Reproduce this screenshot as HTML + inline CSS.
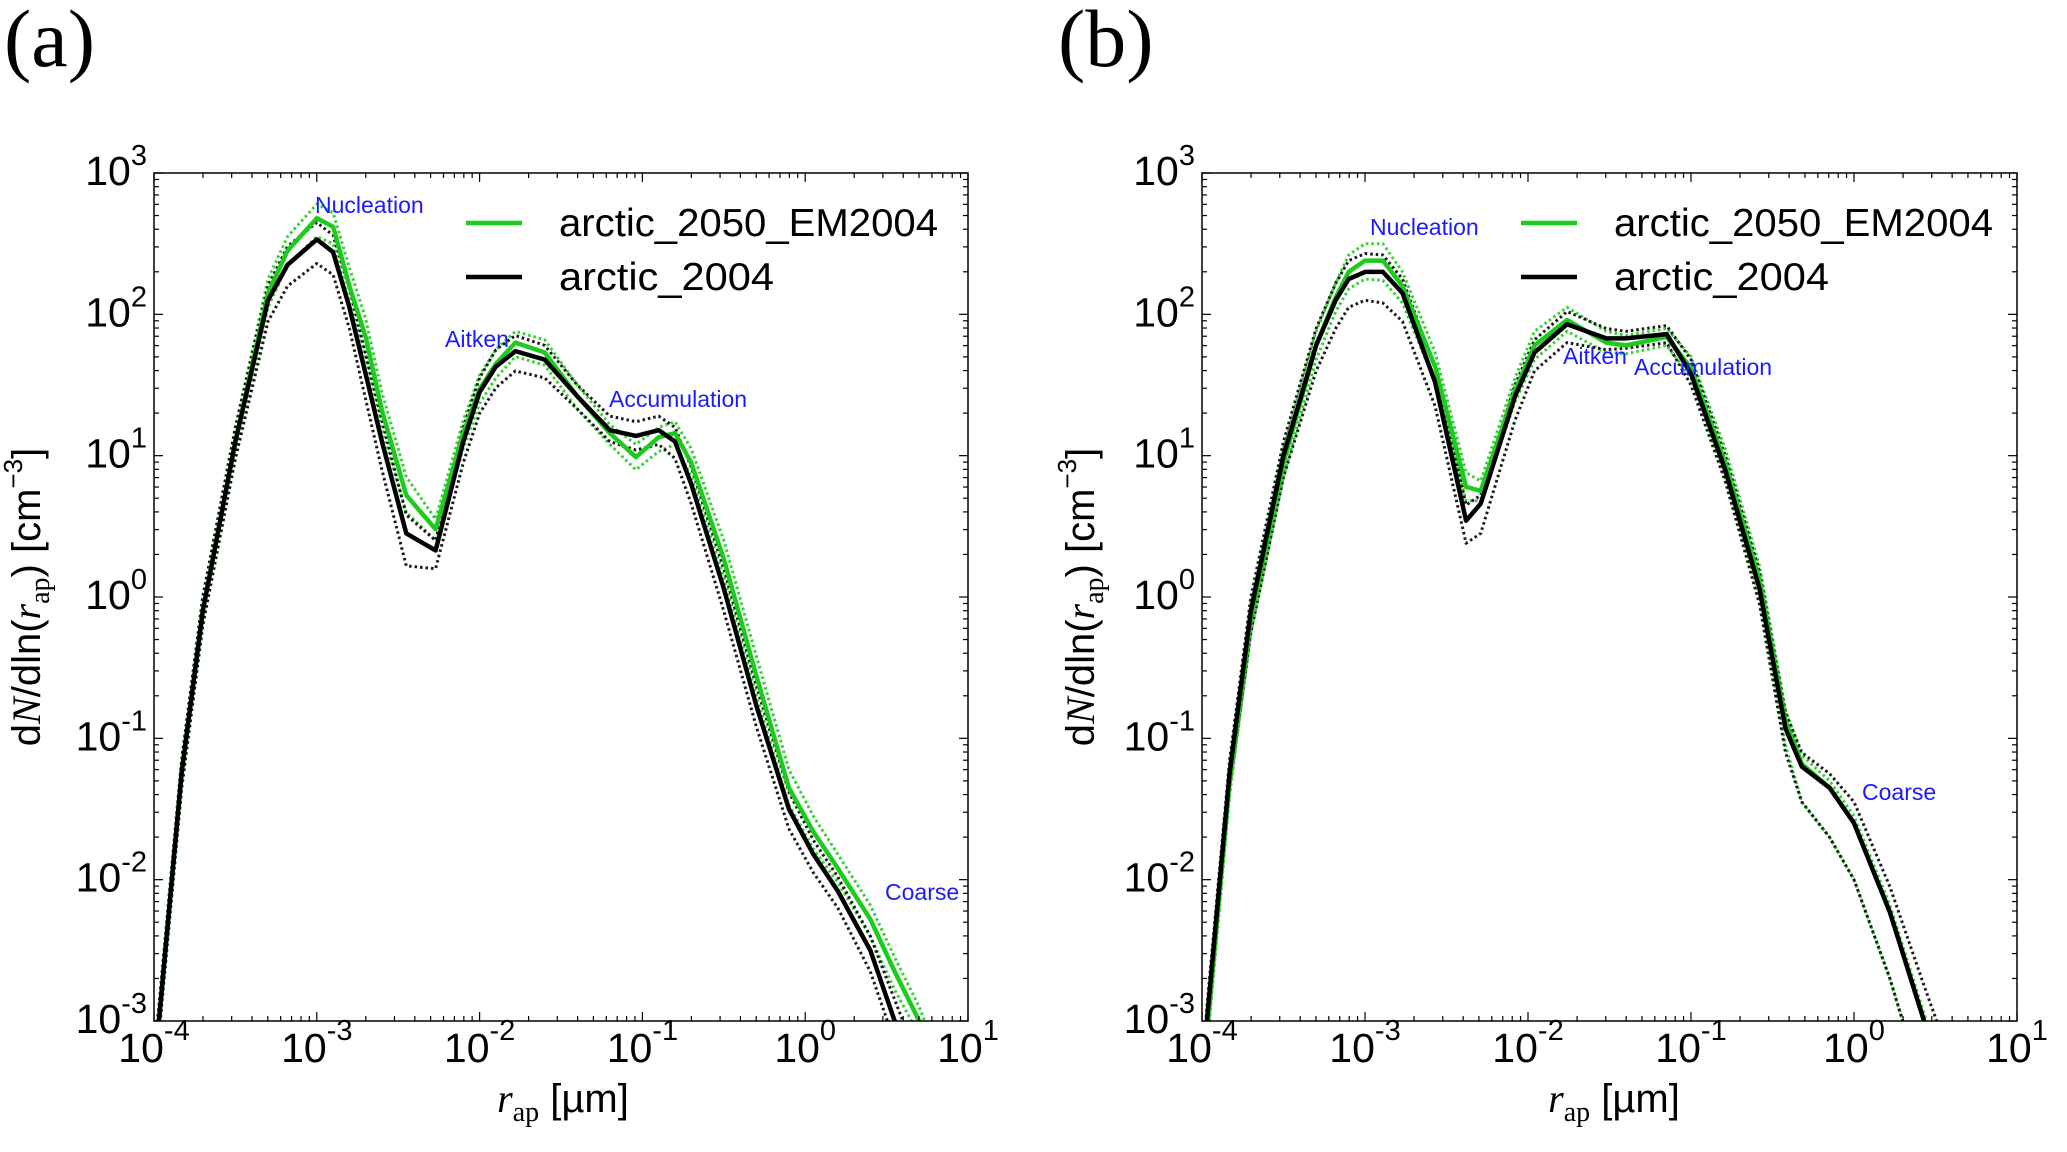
<!DOCTYPE html>
<html><head><meta charset="utf-8">
<style>
html,body{margin:0;padding:0;background:#fff;}
svg{display:block;font-family:"Liberation Sans",sans-serif;}
</style></head>
<body>
<svg id="fig" width="2067" height="1152" viewBox="0 0 2067 1152" xmlns="http://www.w3.org/2000/svg">
<text x="4" y="66" font-family="Liberation Serif,serif" font-size="82">(a)</text>
<text x="1058" y="66" font-family="Liberation Serif,serif" font-size="82">(b)</text>
</svg>
<script>
// x grid (log10 of r_ap in µm) and log10 of dN/dln(r_ap)
const xA = [-4,-3.97,-3.83,-3.7,-3.5,-3.3,-3.18,-3,-2.9,-2.8,-2.7,-2.6,-2.45,-2.27,-2.1,-2,-1.9,-1.78,-1.6,-1.4,-1.2,-1.04,-0.9,-0.8,-0.7,-0.5,-0.3,-0.1,0.05,0.2,0.4,0.55,0.7,0.8];
const aGreen = [-3.3,-3,-1.24,-0.1,1.1,2.15,2.45,2.68,2.62,2.2,1.84,1.32,0.72,0.48,1.16,1.47,1.65,1.8,1.73,1.42,1.16,0.99,1.13,1.16,0.95,0.27,-0.56,-1.35,-1.66,-1.92,-2.28,-2.65,-3,-3.3];
const aBlack = [-3.3,-3,-1.24,-0.1,1.1,2.1,2.35,2.53,2.44,2.05,1.58,1.1,0.45,0.33,1.1,1.45,1.63,1.74,1.68,1.42,1.18,1.14,1.18,1.1,0.8,0.06,-0.77,-1.5,-1.82,-2.08,-2.5,-3,-3.5,-3.8];
const aGreenHi = [-3.2,-2.9,-1.15,0,1.2,2.25,2.55,2.78,2.72,2.33,1.97,1.45,0.85,0.55,1.25,1.57,1.75,1.88,1.82,1.5,1.22,1.08,1.2,1.24,1.05,0.4,-0.42,-1.22,-1.55,-1.82,-2.18,-2.55,-2.9,-3.2];
const aGreenLo = [-3.4,-3.1,-1.35,-0.2,1.0,2.05,2.35,2.55,2.5,2.08,1.7,1.18,0.6,0.4,1.05,1.37,1.55,1.7,1.64,1.33,1.08,0.9,1.03,1.08,0.85,0.14,-0.7,-1.47,-1.78,-2.02,-2.4,-2.78,-3.1,-3.4];
const aBlackHi = [-3.2,-2.9,-1.15,0,1.2,2.2,2.48,2.65,2.56,2.18,1.72,1.25,0.58,0.4,1.2,1.55,1.75,1.85,1.78,1.5,1.28,1.24,1.28,1.2,0.92,0.2,-0.63,-1.38,-1.72,-1.98,-2.4,-2.85,-3.3,-3.6];
const aBlackLo = [-3.4,-3.1,-1.35,-0.2,0.98,1.95,2.2,2.36,2.28,1.9,1.4,0.9,0.22,0.2,0.95,1.3,1.48,1.6,1.55,1.33,1.1,1.04,1.08,0.98,0.66,-0.1,-0.92,-1.64,-1.95,-2.2,-2.65,-3.15,-3.6,-3.9];

const xB = [-4,-3.97,-3.83,-3.7,-3.5,-3.3,-3.18,-3.1,-3,-2.89,-2.77,-2.57,-2.38,-2.29,-2.08,-1.96,-1.76,-1.52,-1.4,-1.15,-1,-0.79,-0.58,-0.42,-0.32,-0.15,0,0.22,0.43,0.6];
const bGreen = [-3.6,-3.1,-1.3,-0.15,0.95,1.78,2.12,2.3,2.38,2.38,2.2,1.63,0.78,0.75,1.46,1.78,1.96,1.8,1.78,1.84,1.62,0.95,0.12,-0.88,-1.18,-1.35,-1.6,-2.23,-3,-3.6];
const bBlack = [-3.5,-3,-1.24,-0.1,1.0,1.78,2.1,2.25,2.3,2.3,2.15,1.52,0.54,0.66,1.42,1.73,1.93,1.83,1.83,1.86,1.58,0.9,0.06,-0.93,-1.2,-1.35,-1.6,-2.23,-3,-3.6];
const bGreenHi = [-3.5,-3.0,-1.2,-0.05,1.05,1.88,2.22,2.42,2.5,2.5,2.3,1.73,0.88,0.82,1.55,1.88,2.05,1.88,1.85,1.9,1.7,1.05,0.22,-0.8,-1.12,-1.3,-1.55,-2.18,-2.95,-3.5];
const bGreenLo = [-3.7,-3.2,-1.4,-0.25,0.85,1.68,2.02,2.18,2.25,2.24,2.08,1.52,0.68,0.68,1.38,1.68,1.88,1.73,1.72,1.78,1.55,0.85,0.0,-1.05,-1.45,-1.7,-2.0,-2.7,-3.5,-4];
const bBlackHi = [-3.4,-2.9,-1.15,0,1.1,1.9,2.22,2.38,2.43,2.42,2.25,1.62,0.65,0.72,1.5,1.82,2.02,1.9,1.88,1.92,1.68,1.0,0.18,-0.82,-1.1,-1.25,-1.45,-2.05,-2.75,-3.3];
const bBlackLo = [-3.6,-3.1,-1.35,-0.25,0.85,1.6,1.9,2.05,2.1,2.08,1.95,1.35,0.38,0.45,1.25,1.6,1.8,1.75,1.76,1.8,1.5,0.82,-0.05,-1.1,-1.45,-1.7,-2.0,-2.7,-3.5,-4];

const xTickExps = [-4,-3,-2,-1,0,1];
const yTickExps = [-3,-2,-1,0,1,2,3];
const legendLabels = ["arctic_2050_EM2004","arctic_2004"];

const NS = "http://www.w3.org/2000/svg";
const svg = document.getElementById('fig');
function mk(tag, attrs, parent){const e=document.createElementNS(NS,tag);for(const k in attrs)e.setAttribute(k,attrs[k]);(parent||svg).appendChild(e);return e;}

const GREEN = "#1ccc1c";
const TOP = 173, BOT = 1021;

function panel(id, L, R, xs, series, ann, legX, xTitleC, yTitleX){
  const W = R-L, H = BOT-TOP;
  const sx = v => L + (v+4)/5*W;
  const sy = v => BOT - (v+3)/6*H;
  const g = mk('g', {});
  
  
  const defs = mk('defs', {}, g);
  const cp = mk('clipPath', {id:'clip'+id}, defs);
  mk('rect', {x:L, y:TOP, width:W, height:H}, cp);
  const plot = mk('g', {'clip-path':'url(#clip'+id+')'}, g);
  
  
  series.forEach(s=>{
    const d = xs.map((x,i)=>(i?'L':'M')+sx(x).toFixed(1)+','+sy(s.v[i]).toFixed(1)).join(' ');
    const p = mk('path', {d:d, fill:'none', stroke:s.c, 'stroke-width': s.dot?3:4.5, 'stroke-dasharray': s.dot?'2.5 3':'none', 'stroke-linejoin':'round', opacity: s.dot?0.9:1}, plot);
    
    
  });
  const fr = mk('rect', {x:L, y:TOP, width:W, height:H, fill:'none', stroke:'#000', 'stroke-width':1.5}, g);
  
  
  const tg = mk('g', {stroke:'#000', 'stroke-width':1.2}, g);
  for(let e=-4;e<=1;e++){
    for(let k=1;k<10;k++){
      const v = e + Math.log10(k); if(v>1) break;
      const x = sx(v), len = k===1?9:5;
      mk('line',{x1:x,y1:BOT,x2:x,y2:BOT-len},tg);
      mk('line',{x1:x,y1:TOP,x2:x,y2:TOP+len},tg);
    }
  }
  for(let e=-3;e<=3;e++){
    for(let k=1;k<10;k++){
      const v = e + Math.log10(k); if(v>3) break;
      const y = sy(v), len = k===1?9:5;
      mk('line',{x1:L,y1:y,x2:L+len,y2:y},tg);
      mk('line',{x1:R,y1:y,x2:R-len,y2:y},tg);
    }
  }
  xTickExps.forEach(e=>{
    const t = mk('text', {x:sx(e), y:1062, 'text-anchor':'middle', 'font-size':41}, g);
    
    
    t.appendChild(document.createTextNode('10'));
    const sp = mk('tspan', {'font-size':29, dy:-22}, t); sp.textContent = String(e);
  });
  yTickExps.forEach(e=>{
    const t = mk('text', {x:L-7, y:sy(e)+12, 'text-anchor':'end', 'font-size':41}, g);
    
    
    t.appendChild(document.createTextNode('10'));
    const sp = mk('tspan', {'font-size':29, dy:-20}, t); sp.textContent = String(e);
  });
  ann.forEach(a=>{
    const t = mk('text', {x:a[1], y:a[2]+8, fill:'#1a1aff', 'font-size':23}, g);
    
    
    t.textContent = a[0];
  });
  const lg = mk('g', {}, g);
  
  
  [[GREEN,223,legendLabels[0],379],['#000',277,legendLabels[1],215]].forEach(r=>{
    const en = mk('g', {}, lg);
    
    
    mk('line', {x1:legX, y1:r[1], x2:legX+56, y2:r[1], stroke:r[0], 'stroke-width':4.5}, en);
    const t = mk('text', {x:legX+93, y:r[1]+13, 'font-size':39, textLength:r[3], lengthAdjust:'spacingAndGlyphs'}, en);
    t.textContent = r[2];
  });
  const xt = mk('text', {x:xTitleC, y:1112, 'text-anchor':'middle', 'font-size':40}, g);
  
  
  let s1 = mk('tspan', {'font-family':'Liberation Serif,serif','font-style':'italic'}, xt); s1.textContent='r';
  let s2 = mk('tspan', {'font-family':'Liberation Serif,serif','font-size':28, dy:9}, xt); s2.textContent='ap';
  let s3 = mk('tspan', {dy:-9}, xt); s3.textContent=' [µm]';
  const yt = mk('text', {transform:'translate('+yTitleX+',597) rotate(-90)', 'text-anchor':'middle', 'font-size':40}, g);
  
  
  const parts = [['d',{}],['N',{'font-family':'Liberation Serif,serif','font-style':'italic'}],['/dln(',{}],['r',{'font-family':'Liberation Serif,serif','font-style':'italic'}],['ap',{'font-family':'Liberation Serif,serif','font-size':28,dy:9}],[') [cm',{dy:-9}],['−3',{'font-size':26,dy:-18}],[']',{dy:18}]];
  parts.forEach(p=>{const s=mk('tspan',p[1],yt);s.textContent=p[0];});
}

panel('a', 154, 968, xA, [
  {v:aGreenHi,c:GREEN,dot:true,name:'a-green-upper'},
  {v:aGreenLo,c:GREEN,dot:true,name:'a-green-lower'},
  {v:aBlackHi,c:'#000',dot:true,name:'a-black-upper'},
  {v:aBlackLo,c:'#000',dot:true,name:'a-black-lower'},
  {v:aGreen,c:GREEN,dot:false,name:'a-arctic-2050-line'},
  {v:aBlack,c:'#000',dot:false,name:'a-arctic-2004-line'}
], [['Nucleation',315,205],['Aitken',445,339],['Accumulation',609,399],['Coarse',885,892]], 466, 563, 40);

panel('b', 1202, 2017, xB, [
  {v:bGreenHi,c:GREEN,dot:true,name:'b-green-upper'},
  {v:bGreenLo,c:GREEN,dot:true,name:'b-green-lower'},
  {v:bBlackHi,c:'#000',dot:true,name:'b-black-upper'},
  {v:bBlackLo,c:'#000',dot:true,name:'b-black-lower'},
  {v:bGreen,c:GREEN,dot:false,name:'b-arctic-2050-line'},
  {v:bBlack,c:'#000',dot:false,name:'b-arctic-2004-line'}
], [['Nucleation',1370,227],['Aitken',1563,356],['Accumulation',1634,367],['Coarse',1862,792]], 1521, 1614, 1094);
</script>
</body></html>
